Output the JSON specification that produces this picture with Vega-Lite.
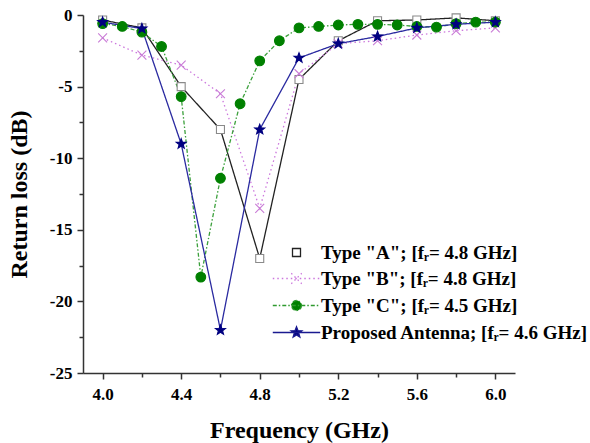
{
  "$schema": "https://vega.github.io/schema/vega-lite/v6.json",
  "width": 432,
  "height": 358,
  "autosize": "none",
  "padding": {"left": 83, "top": 15, "right": 75, "bottom": 70},
  "config": {
    "font": "Liberation Serif",
    "view": {"stroke": null},
    "axis": {
      "grid": false,
      "domainColor": "#333",
      "domainWidth": 1.5,
      "tickColor": "#333",
      "tickWidth": 1.5,
      "labelFont": "Liberation Serif",
      "labelFontWeight": "bold",
      "labelFontSize": 17,
      "labelColor": "#000",
      "titleFont": "Liberation Serif",
      "titleFontWeight": "bold",
      "titleFontSize": 24,
      "titleColor": "#000"
    },
    "legend": {
      "orient": "none",
      "legendX": 204,
      "title": null,
      "padding": 0,
      "symbolSize": 90,
      "symbolStrokeWidth": 1.3,
      "symbolOpacity": 1,
      "labelFont": "Liberation Serif",
      "labelFontWeight": "bold",
      "labelFontSize": 19,
      "labelColor": "#000",
      "labelOffset": 15,
      "labelLimit": 400
    }
  },
  "data": {
    "values": [
      {"series": "Type \"A\"; [fᵣ= 4.8 GHz]", "f": 4.0, "rl": -0.35},
      {"series": "Type \"A\"; [fᵣ= 4.8 GHz]", "f": 4.2, "rl": -0.9},
      {"series": "Type \"A\"; [fᵣ= 4.8 GHz]", "f": 4.4, "rl": -5.0},
      {"series": "Type \"A\"; [fᵣ= 4.8 GHz]", "f": 4.6, "rl": -8.0},
      {"series": "Type \"A\"; [fᵣ= 4.8 GHz]", "f": 4.8, "rl": -17.0},
      {"series": "Type \"A\"; [fᵣ= 4.8 GHz]", "f": 5.0, "rl": -4.5},
      {"series": "Type \"A\"; [fᵣ= 4.8 GHz]", "f": 5.2, "rl": -1.8},
      {"series": "Type \"A\"; [fᵣ= 4.8 GHz]", "f": 5.4, "rl": -0.4},
      {"series": "Type \"A\"; [fᵣ= 4.8 GHz]", "f": 5.6, "rl": -0.35},
      {"series": "Type \"A\"; [fᵣ= 4.8 GHz]", "f": 5.8, "rl": -0.2},
      {"series": "Type \"A\"; [fᵣ= 4.8 GHz]", "f": 6.0, "rl": -0.4},
      {"series": "Type \"B\"; [fᵣ= 4.8 GHz]", "f": 4.0, "rl": -1.6},
      {"series": "Type \"B\"; [fᵣ= 4.8 GHz]", "f": 4.2, "rl": -2.8},
      {"series": "Type \"B\"; [fᵣ= 4.8 GHz]", "f": 4.4, "rl": -3.5},
      {"series": "Type \"B\"; [fᵣ= 4.8 GHz]", "f": 4.6, "rl": -5.5},
      {"series": "Type \"B\"; [fᵣ= 4.8 GHz]", "f": 4.8, "rl": -13.5},
      {"series": "Type \"B\"; [fᵣ= 4.8 GHz]", "f": 5.0, "rl": -4.1},
      {"series": "Type \"B\"; [fᵣ= 4.8 GHz]", "f": 5.2, "rl": -2.0},
      {"series": "Type \"B\"; [fᵣ= 4.8 GHz]", "f": 5.4, "rl": -1.8},
      {"series": "Type \"B\"; [fᵣ= 4.8 GHz]", "f": 5.6, "rl": -1.4},
      {"series": "Type \"B\"; [fᵣ= 4.8 GHz]", "f": 5.8, "rl": -1.1},
      {"series": "Type \"B\"; [fᵣ= 4.8 GHz]", "f": 6.0, "rl": -0.9},
      {"series": "Type \"C\"; [fᵣ= 4.5 GHz]", "f": 4.0, "rl": -0.6},
      {"series": "Type \"C\"; [fᵣ= 4.5 GHz]", "f": 4.1, "rl": -0.8},
      {"series": "Type \"C\"; [fᵣ= 4.5 GHz]", "f": 4.2, "rl": -1.2},
      {"series": "Type \"C\"; [fᵣ= 4.5 GHz]", "f": 4.3, "rl": -2.2},
      {"series": "Type \"C\"; [fᵣ= 4.5 GHz]", "f": 4.4, "rl": -5.7},
      {"series": "Type \"C\"; [fᵣ= 4.5 GHz]", "f": 4.5, "rl": -18.3},
      {"series": "Type \"C\"; [fᵣ= 4.5 GHz]", "f": 4.6, "rl": -11.4},
      {"series": "Type \"C\"; [fᵣ= 4.5 GHz]", "f": 4.7, "rl": -6.2},
      {"series": "Type \"C\"; [fᵣ= 4.5 GHz]", "f": 4.8, "rl": -3.2},
      {"series": "Type \"C\"; [fᵣ= 4.5 GHz]", "f": 4.9, "rl": -1.8},
      {"series": "Type \"C\"; [fᵣ= 4.5 GHz]", "f": 5.0, "rl": -0.9},
      {"series": "Type \"C\"; [fᵣ= 4.5 GHz]", "f": 5.1, "rl": -0.8},
      {"series": "Type \"C\"; [fᵣ= 4.5 GHz]", "f": 5.2, "rl": -0.7},
      {"series": "Type \"C\"; [fᵣ= 4.5 GHz]", "f": 5.3, "rl": -0.65},
      {"series": "Type \"C\"; [fᵣ= 4.5 GHz]", "f": 5.4, "rl": -0.65},
      {"series": "Type \"C\"; [fᵣ= 4.5 GHz]", "f": 5.5, "rl": -0.7},
      {"series": "Type \"C\"; [fᵣ= 4.5 GHz]", "f": 5.6, "rl": -0.8},
      {"series": "Type \"C\"; [fᵣ= 4.5 GHz]", "f": 5.7, "rl": -0.85},
      {"series": "Type \"C\"; [fᵣ= 4.5 GHz]", "f": 5.8, "rl": -0.6},
      {"series": "Type \"C\"; [fᵣ= 4.5 GHz]", "f": 5.9, "rl": -0.5},
      {"series": "Type \"C\"; [fᵣ= 4.5 GHz]", "f": 6.0, "rl": -0.5},
      {"series": "Proposed Antenna; [fᵣ= 4.6 GHz]", "f": 4.0, "rl": -0.5},
      {"series": "Proposed Antenna; [fᵣ= 4.6 GHz]", "f": 4.2, "rl": -0.95},
      {"series": "Proposed Antenna; [fᵣ= 4.6 GHz]", "f": 4.4, "rl": -9.0},
      {"series": "Proposed Antenna; [fᵣ= 4.6 GHz]", "f": 4.6, "rl": -22.0},
      {"series": "Proposed Antenna; [fᵣ= 4.6 GHz]", "f": 4.8, "rl": -8.0},
      {"series": "Proposed Antenna; [fᵣ= 4.6 GHz]", "f": 5.0, "rl": -3.0},
      {"series": "Proposed Antenna; [fᵣ= 4.6 GHz]", "f": 5.2, "rl": -2.0},
      {"series": "Proposed Antenna; [fᵣ= 4.6 GHz]", "f": 5.4, "rl": -1.5},
      {"series": "Proposed Antenna; [fᵣ= 4.6 GHz]", "f": 5.6, "rl": -0.9},
      {"series": "Proposed Antenna; [fᵣ= 4.6 GHz]", "f": 5.8, "rl": -0.65},
      {"series": "Proposed Antenna; [fᵣ= 4.6 GHz]", "f": 6.0, "rl": -0.5}
    ]
  },
  "encoding": {
    "x": {
      "field": "f", "type": "quantitative",
      "scale": {"domain": [3.9, 6.1], "nice": false, "zero": false},
      "axis": {
        "title": "Frequency (GHz)",
        "values": [4.0, 4.2, 4.4, 4.6, 4.8, 5.0, 5.2, 5.4, 5.6, 5.8, 6.0],
        "labelExpr": "abs(round(datum.value*10)) % 4 === 0 ? format(datum.value, '.1f') : ''",
        "tickSize": {"condition": {"test": "abs(round(datum.value*10)) % 4 === 0", "value": 6}, "value": 4},
        "labelPadding": 7,
        "titlePadding": 16
      }
    },
    "y": {
      "field": "rl", "type": "quantitative",
      "scale": {"domain": [-25, 0], "nice": false},
      "axis": {
        "title": "Return loss (dB)",
        "values": [0, -2.5, -5, -7.5, -10, -12.5, -15, -17.5, -20, -22.5, -25],
        "labelExpr": "datum.value % 5 === 0 ? toString(datum.value) : ''",
        "tickSize": {"condition": {"test": "datum.value % 5 === 0", "value": 6}, "value": 4},
        "labelPadding": 5,
        "titlePadding": 18
      }
    }
  },
  "layer": [
    {
      "mark": {"type": "line", "strokeWidth": 1.3},
      "encoding": {
        "color": {
          "field": "series", "type": "nominal",
          "scale": {
            "domain": ["Type \"A\"; [fᵣ= 4.8 GHz]", "Type \"B\"; [fᵣ= 4.8 GHz]", "Type \"C\"; [fᵣ= 4.5 GHz]", "Proposed Antenna; [fᵣ= 4.6 GHz]"],
            "range": ["#222222", "#cc77dd", "#3ba03b", "#2a2aa0"]
          },
          "legend": {
            "values": ["Type \"A\"; [fᵣ= 4.8 GHz]"],
            "legendY": 228,
            "symbolType": "M-5,0L-0.85,0M0.85,0L5,0M-0.85,-0.85L0.85,-0.85L0.85,0.85L-0.85,0.85Z"
          }
        },
        "strokeDash": {
          "field": "series", "type": "nominal",
          "scale": {
            "domain": ["Type \"A\"; [fᵣ= 4.8 GHz]", "Type \"B\"; [fᵣ= 4.8 GHz]", "Type \"C\"; [fᵣ= 4.5 GHz]", "Proposed Antenna; [fᵣ= 4.6 GHz]", "-"],
            "range": [[1, 0], [1.5, 3], [4, 2, 1.5, 2], [1, 0], [1, 0]]
          },
          "legend": {
            "values": ["Type \"B\"; [fᵣ= 4.8 GHz]"],
            "legendY": 254,
            "symbolType": "M-5,0L5,0M-1.1,-1.1L1.1,1.1M-1.1,1.1L1.1,-1.1",
            "symbolStrokeColor": "#cc77dd",
            "symbolFillColor": "transparent"
          }
        },
        "opacity": {
          "field": "series", "type": "nominal",
          "scale": {
            "domain": ["Type \"A\"; [fᵣ= 4.8 GHz]", "Type \"B\"; [fᵣ= 4.8 GHz]", "Type \"C\"; [fᵣ= 4.5 GHz]", "Proposed Antenna; [fᵣ= 4.6 GHz]", "-", "--"],
            "range": [1, 1, 1, 1, 1, 1]
          },
          "legend": {
            "values": ["Type \"C\"; [fᵣ= 4.5 GHz]"],
            "legendY": 281,
            "symbolType": "M-5,0L5,0M1.05,0A1.05,1.05 0 1,1 -1.05,0A1.05,1.05 0 1,1 1.05,0Z",
            "symbolStrokeColor": "#2f9a2f",
            "symbolFillColor": "#008000",
            "symbolDash": [4, 2, 1.5, 2]
          }
        },
        "strokeWidth": {
          "field": "series", "type": "nominal",
          "scale": {
            "domain": ["Type \"A\"; [fᵣ= 4.8 GHz]", "Type \"B\"; [fᵣ= 4.8 GHz]", "Type \"C\"; [fᵣ= 4.5 GHz]", "Proposed Antenna; [fᵣ= 4.6 GHz]", "-", "--", "---"],
            "range": [1.3, 1.3, 1.3, 1.3, 1.3, 1.3, 1.3]
          },
          "legend": {
            "values": ["Proposed Antenna; [fᵣ= 4.6 GHz]"],
            "legendY": 308,
            "symbolType": "M-5,0L5,0M0,-1.2L0.296,-0.408L1.141,-0.371L0.479,0.156L0.706,0.971L0,0.504L-0.706,0.971L-0.479,0.156L-1.141,-0.371L-0.296,-0.408Z",
            "symbolStrokeColor": "#1a1a90",
            "symbolFillColor": "#000080"
          }
        }
      }
    },
    {
      "mark": {"type": "point", "opacity": 1, "strokeWidth": 1.1},
      "encoding": {
        "stroke": {
          "field": "series", "type": "nominal",
          "scale": {
            "domain": ["Type \"A\"; [fᵣ= 4.8 GHz]", "Type \"B\"; [fᵣ= 4.8 GHz]", "Type \"C\"; [fᵣ= 4.5 GHz]", "Proposed Antenna; [fᵣ= 4.6 GHz]"],
            "range": ["#8a8a8a", "#c97bd6", "#008000", "#000080"]
          },
          "legend": null
        },
        "fill": {
          "field": "series", "type": "nominal",
          "scale": {
            "domain": ["Type \"A\"; [fᵣ= 4.8 GHz]", "Type \"B\"; [fᵣ= 4.8 GHz]", "Type \"C\"; [fᵣ= 4.5 GHz]", "Proposed Antenna; [fᵣ= 4.6 GHz]"],
            "range": ["#ffffff", "transparent", "#008000", "#000080"]
          },
          "legend": null
        },
        "shape": {
          "field": "series", "type": "nominal",
          "scale": {
            "domain": ["Type \"A\"; [fᵣ= 4.8 GHz]", "Type \"B\"; [fᵣ= 4.8 GHz]", "Type \"C\"; [fᵣ= 4.5 GHz]", "Proposed Antenna; [fᵣ= 4.6 GHz]"],
            "range": ["square", "M-1,-1L1,1M-1,1L1,-1", "circle", "M0,-1L0.247,-0.34L0.951,-0.309L0.399,0.13L0.588,0.809L0,0.42L-0.588,0.809L-0.399,0.13L-0.951,-0.309L-0.247,-0.34Z"]
          },
          "legend": null
        },
        "size": {
          "field": "series", "type": "nominal",
          "scale": {
            "domain": ["Type \"A\"; [fᵣ= 4.8 GHz]", "Type \"B\"; [fᵣ= 4.8 GHz]", "Type \"C\"; [fᵣ= 4.5 GHz]", "Proposed Antenna; [fᵣ= 4.6 GHz]"],
            "range": [64, 110, 85, 150]
          },
          "legend": null
        }
      }
    }
  ]
}
